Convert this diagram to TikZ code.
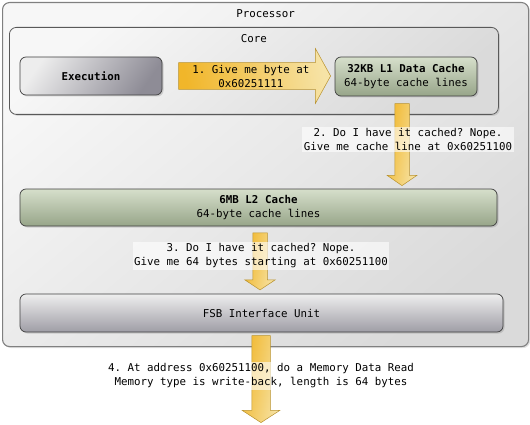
\documentclass[tikz,border=0pt]{standalone}
\usepackage{fontspec}
\setmonofont{DejaVu Sans Mono}
\usetikzlibrary{arrows,positioning,calc,shapes.arrows,shadows}

\definecolor{procA}{HTML}{F7F7F7}
\definecolor{procB}{HTML}{DADADA}
\definecolor{greyA}{HTML}{EDEDED}
\definecolor{greyB}{HTML}{8E8C96}
\definecolor{greenA}{HTML}{D6DFCB}
\definecolor{greenB}{HTML}{97A589}
\definecolor{goldA}{HTML}{F1B62A}
\definecolor{goldB}{HTML}{F6E3A6}
\definecolor{goldEdge}{HTML}{B8922E}

\begin{document}
\begin{tikzpicture}[x=1pt,y=-1pt,font=\ttfamily\fontsize{10.8}{14}\selectfont,
  outer box/.style={draw=black!50,line width=1.1pt,rounded corners=7pt,top color=procA,bottom color=procB,shading angle=40,drop shadow={opacity=0.25,shadow xshift=1.5pt,shadow yshift=-1.5pt}},
  inner box/.style={draw=black!65,line width=0.8pt,rounded corners=7pt,top color=procA,bottom color=procB,shading angle=40,drop shadow={opacity=0.25,shadow xshift=1.5pt,shadow yshift=-1.5pt}},
  unit box/.style={draw=black!75,line width=0.7pt,rounded corners=6pt,top color=greyA,bottom color=greyB,shading angle=55,align=center,inner sep=0pt,drop shadow={opacity=0.3,shadow xshift=1.5pt,shadow yshift=-1.5pt}},
  cache box/.style={unit box,top color=greenA,bottom color=greenB},
  title node/.style={inner sep=0pt},
  big arrow/.style={single arrow,draw=goldEdge,line width=0.5pt,top color=goldA,bottom color=goldB,shading angle=100,inner xsep=0pt},
  down arrow/.style={big arrow,rotate=-90,shading angle=80,anchor=tail},
  step label/.style={fill=white,fill opacity=0.6,text opacity=1,align=center,inner sep=1.5pt}]

  \useasboundingbox (0,0) rectangle (530,425);

  % boxes
  \node[outer box,minimum width=526,minimum height=344,anchor=north west] (proc) at (2,2) {};
  \node[title node,below=7pt of proc.north] (procT) {Processor};
  \node[inner box,minimum width=489,minimum height=87,anchor=north west] (core) at (9,27) {};
  \node[title node,below=7pt of core.north] (coreT) {Core};

  \node[unit box,minimum width=142,minimum height=38] (exec) at (91,76) {\bfseries Execution};
  \node[cache box,minimum width=142,minimum height=39] (L1) at (406,76.5) {\textbf{32KB L1 Data Cache}\\64-byte cache lines};
  \node[cache box,minimum width=477,minimum height=37] (L2) at (258.5,207.5) {\textbf{6MB L2 Cache}\\64-byte cache lines};
  \node[unit box,minimum width=483,minimum height=38,top color=greyA!95!white,bottom color=greyB!85!white] (fsb) at (261.5,313) {FSB Interface Unit};

  % fat arrows
  \node[big arrow,align=center,inner ysep=2pt,minimum height=152,single arrow head extend=14pt,single arrow tip angle=122,anchor=tail] (a1) at ($(exec.east)+(16,0)$) {1. Give me byte at\\0x60251111};
  \node[down arrow,inner ysep=7pt,minimum height=82,single arrow head extend=7.5pt,single arrow tip angle=111] (a2) at ($(L1.south)+(-4,7)$) {};
  \node[down arrow,inner ysep=7pt,minimum height=57,single arrow head extend=8pt,single arrow tip angle=113] (a3) at ($(L2.north |- fsb.north)+(1.5,-61)$) {};
  \node[down arrow,inner ysep=9pt,minimum height=87,single arrow head extend=9.5pt,single arrow tip angle=114] (a4) at ($(fsb.south)+(-0.5,3)$) {};

  % labels
  \node[step label] (lab2) at (408,139.5) {2. Do I have it cached? Nope.\\Give me cache line at 0x60251100};
  \node[step label] (lab3) at (261,256) {3. Do I have it cached? Nope.\\Give me 64 bytes starting at 0x60251100};
  \node[step label] (lab4) at (261,376) {4. At address 0x60251100, do a Memory Data Read\\Memory type is write-back, length is 64 bytes};
\end{tikzpicture}
\end{document}
